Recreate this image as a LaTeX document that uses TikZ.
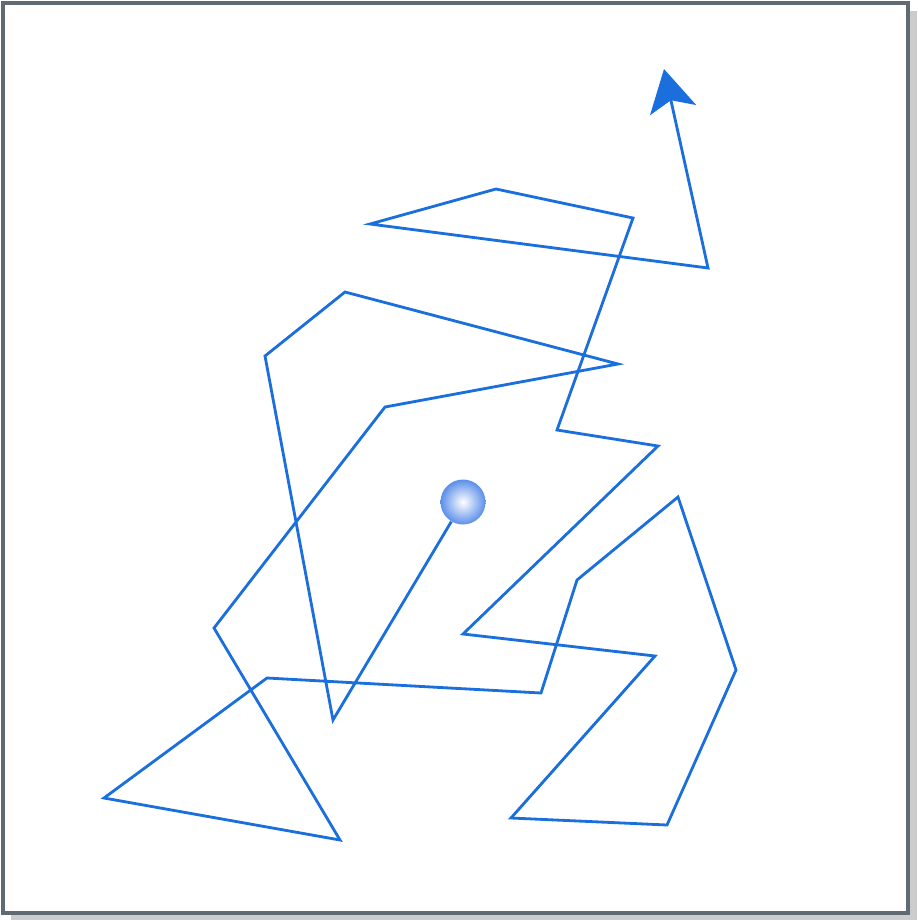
\documentclass[tikz,border=0pt]{standalone}
\usepackage{xcolor}
\usetikzlibrary{arrows.meta,shadows}
\definecolor{walkBlue}{HTML}{1A6FDC}
\definecolor{ballBlue}{HTML}{5B8FEA}
\definecolor{frameGray}{HTML}{5F6A72}
\definecolor{shadowGray}{HTML}{CCCCCC}
\tikzset{
  frame/.style={draw=frameGray, line width=2.6pt, fill=white},
  walk/.style={draw=walkBlue, line width=1.6pt, line join=miter,
    -{Stealth[length=8.4mm, width=9.4mm, inset=2mm]}},
  startball/.style={circle, minimum size=0.9cm, inner sep=0pt,
    inner color=white, outer color=ballBlue}
}
\begin{document}
\begin{tikzpicture}[x=0.02cm, y=-0.02cm]
  \useasboundingbox (0,0) rectangle (917,920);
  % frame with shadow
  \fill[shadowGray] (11,11) rectangle (917,920);
  \draw[frame] (3,3) rectangle (908,913);
  % start of the walk
  \node[startball] (ball) at (463,502) {};
  \draw[walk] (ball) -- (333,720) -- (265,356) -- (345,292) -- (618,364)
    -- (385,407) -- (214,628) -- (340,840) -- (104,798) -- (267,678)
    -- (541,693) -- (577,580) -- (678,497) -- (736,670) -- (667,825)
    -- (511,818) -- (655,656) -- (463,634) -- (658,446) -- (557,430)
    -- (633,218) -- (496,189) -- (370,224) -- (708,268) -- (664,69);
\end{tikzpicture}
\end{document}
